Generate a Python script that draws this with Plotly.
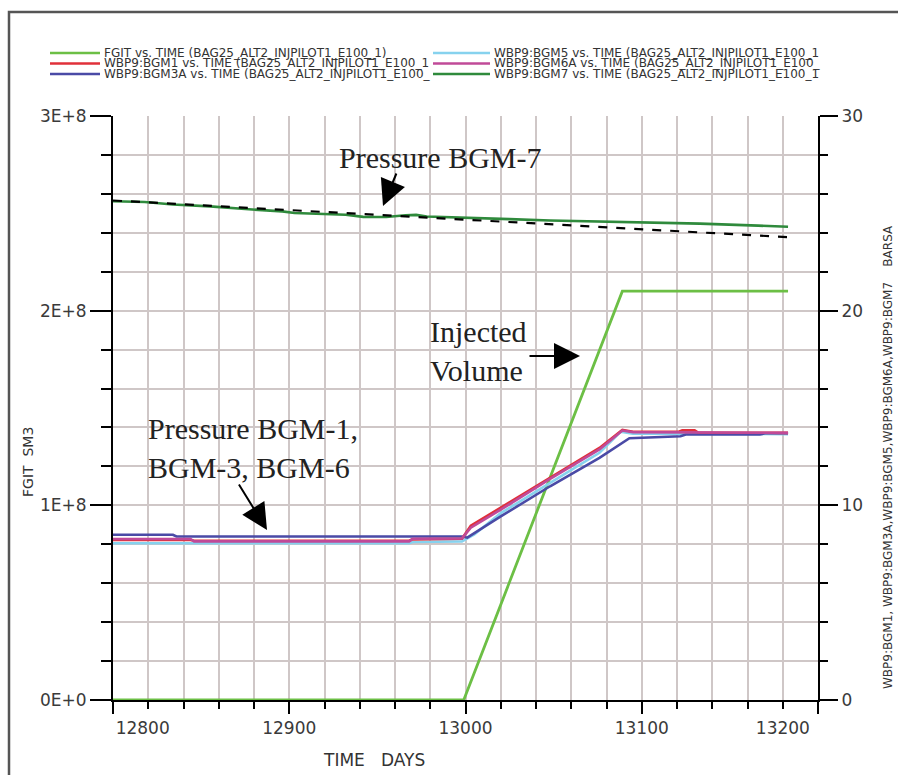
import plotly.graph_objects as go

# ---------------- data ----------------
fgit_days = [12800, 12999, 13089, 13183]
fgit_sm3 = [0, 0, 2.10e8, 2.10e8]

bgm1_days = [12800, 12844, 12846, 12968, 12970, 12998, 13003, 13020, 13048, 13076, 13089, 13095, 13121, 13123, 13130, 13132, 13183]
bgm1_bar = [8.22, 8.22, 8.18, 8.18, 8.25, 8.28, 8.95, 9.88, 11.45, 12.95, 13.88, 13.78, 13.78, 13.85, 13.85, 13.74, 13.72]

bgm3a_days = [12800, 12834, 12836, 12998, 13001, 13020, 13048, 13076, 13093, 13122, 13125, 13167, 13170, 13183]
bgm3a_bar = [8.49, 8.49, 8.40, 8.40, 8.34, 9.43, 10.98, 12.44, 13.45, 13.55, 13.64, 13.64, 13.70, 13.70]

bgm5_days = [12800, 12968, 12970, 12998, 13005, 13020, 13048, 13076, 13088, 13095, 13183]
bgm5_bar = [8.05, 8.05, 8.12, 8.15, 8.50, 9.60, 11.15, 12.70, 13.78, 13.68, 13.66]

bgm6a_days = [12800, 12844, 12846, 12968, 12970, 12998, 13003, 13020, 13048, 13076, 13089, 13095, 13183]
bgm6a_bar = [8.27, 8.27, 8.15, 8.15, 8.28, 8.30, 8.85, 9.78, 11.36, 12.87, 13.84, 13.76, 13.72]

bgm7_days = [12800, 12818, 12834, 12855, 12875, 12896, 12903, 12932, 12942, 12955, 12966, 12972, 12978,
             13000, 13025, 13048, 13074, 13105, 13133, 13166, 13175, 13183]
bgm7_bar = [25.62, 25.58, 25.45, 25.36, 25.22, 25.10, 25.02, 24.93, 24.82, 24.81, 24.90, 24.92, 24.84,
            24.79, 24.70, 24.63, 24.59, 24.52, 24.47, 24.37, 24.32, 24.31]

trend_days = [12800, 13186]
trend_bar = [25.66, 23.76]

x_ticks = [12800, 12900, 13000, 13100, 13200]
y_ticks = [0, 1e8, 2e8, 3e8]
y_ticktext = ["0E+0", "1E+8", "2E+8", "3E+8"]
y2_ticks = [0, 10, 20, 30]

run = "BAG25_ALT2_INJPILOT1_E100_1"
legend_col1 = [("FGIT", "#6cbf45"), ("WBP9:BGM1", "#e0303a"), ("WBP9:BGM3A", "#4a4aa6")]
legend_col2 = [("WBP9:BGM5", "#86d2ee"), ("WBP9:BGM6A", "#c04a98"), ("WBP9:BGM7", "#2f8a3c")]
legend_trunc = {"FGIT": run + ")", "WBP9:BGM1": run, "WBP9:BGM3A": run[:-1],
                "WBP9:BGM5": run, "WBP9:BGM6A": run[:-1], "WBP9:BGM7": run}

# ---------------- geometry helpers ----------------
W, H = 898, 775
L, R, T, B = 113, 80, 116, 75
PW = W - L - R
PH = H - T - B


def px(x):
    return (x - L) / PW


def py(y):
    return (H - B - y) / PH


colors = dict(legend_col1 + legend_col2)

fig = go.Figure()


def add_line(xs, ys, name, color, yaxis, width=2.6, dash=None):
    fig.add_trace(go.Scatter(
        x=xs, y=ys, mode="lines", name=name, yaxis=yaxis,
        line=dict(color=color, width=width, dash=dash), showlegend=False,
        hoverinfo="skip"))


add_line(bgm5_days, bgm5_bar, "WBP9:BGM5", colors["WBP9:BGM5"], "y2")
add_line(bgm3a_days, bgm3a_bar, "WBP9:BGM3A", colors["WBP9:BGM3A"], "y2")
add_line(bgm1_days, bgm1_bar, "WBP9:BGM1", colors["WBP9:BGM1"], "y2")
add_line(bgm6a_days, bgm6a_bar, "WBP9:BGM6A", colors["WBP9:BGM6A"], "y2")
add_line(bgm7_days, bgm7_bar, "WBP9:BGM7", colors["WBP9:BGM7"], "y2")
add_line(fgit_days, fgit_sm3, "FGIT", colors["FGIT"], "y", width=2.8)
add_line(trend_days, trend_bar, "trend", "black", "y2", width=2.2, dash="dash")

tickfont = dict(family="DejaVu Sans", size=17, color="#3a3a3a")
grid = "#cfc7c7"
nb = "\u00a0"
x_ticktext = [str(v) for v in x_ticks]
x_ticktext[0] = nb * 11 + x_ticktext[0]
x_ticktext[-1] = x_ticktext[-1] + nb * 13

fig.update_layout(
    width=W, height=H,
    margin=dict(l=L, r=R, t=T, b=B),
    paper_bgcolor="white", plot_bgcolor="white",
    showlegend=False,
    xaxis=dict(range=[12800, 13200], tickvals=x_ticks, ticktext=x_ticktext,
               showgrid=True, gridcolor=grid, gridwidth=1.5,
               ticks="outside", ticklen=12, tickwidth=2, tickcolor="black",
               showline=True, linecolor="black", linewidth=2,
               minor=dict(dtick=20, tick0=12800, ticks="outside", ticklen=7, tickwidth=1.5,
                          tickcolor="black", showgrid=True, gridcolor=grid, gridwidth=1.5),
               tickfont=tickfont, zeroline=False),
    yaxis=dict(range=[0, 3e8], tickvals=y_ticks, ticktext=y_ticktext,
               showgrid=True, gridcolor=grid, gridwidth=1.5,
               ticks="outside", ticklen=21, tickwidth=2, tickcolor="black",
               showline=True, linecolor="black", linewidth=2,
               minor=dict(dtick=2e7, tick0=0, ticks="outside", ticklen=10, tickwidth=1.5,
                          tickcolor="black", showgrid=True, gridcolor=grid, gridwidth=1.5),
               tickfont=tickfont, zeroline=False),
    yaxis2=dict(range=[0, 30], tickvals=y2_ticks, overlaying="y", side="right",
                showgrid=False, ticks="outside", ticklen=18, tickwidth=2, tickcolor="black",
                showline=True, linecolor="black", linewidth=2,
                minor=dict(dtick=2, tick0=0, ticks="outside", ticklen=8, tickwidth=1.5,
                           tickcolor="black", showgrid=False),
                tickfont=tickfont, zeroline=False),
)

shapes = []
annotations = []

# outer frame
shapes.append(dict(type="rect", xref="paper", yref="paper", x0=px(9), x1=px(930),
                   y0=py(12), y1=py(800), line=dict(color="#555555", width=2.5),
                   fillcolor="rgba(0,0,0,0)", layer="below"))

# manual legend (two columns, three rows)
legfont = dict(family="DejaVu Sans", size=12, color="#333333")
row_y = [53, 63.5, 74]
for col_items, lx0, lx1, tx in [(legend_col1, 50, 100, 102), (legend_col2, 433, 490, 492)]:
    for (name, col), ry in zip(col_items, row_y):
        shapes.append(dict(type="line", xref="paper", yref="paper", x0=px(lx0), x1=px(lx1),
                           y0=py(ry), y1=py(ry), line=dict(color=col, width=2.5)))
        annotations.append(dict(xref="paper", yref="paper", x=px(tx), y=py(ry), xanchor="left",
                                yanchor="middle", showarrow=False, font=legfont,
                                text=f"{name} vs. TIME ({legend_trunc[name]}"))

# axis titles
annotations.append(dict(xref="paper", yref="paper", x=px(28), y=py(462), showarrow=False,
                        xanchor="center", yanchor="middle",
                        textangle=-90, text="FGIT" + nb * 2 + "SM3",
                        font=dict(family="DejaVu Sans", size=14, color="#333333")))
annotations.append(dict(xref="paper", yref="paper", x=px(374), y=py(760), showarrow=False,
                        xanchor="center", yanchor="middle",
                        text="TIME" + nb * 3 + "DAYS",
                        font=dict(family="DejaVu Sans", size=17, color="#333333")))
annotations.append(dict(xref="paper", yref="paper", x=px(888), y=py(457), showarrow=False,
                        xanchor="center", yanchor="middle", textangle=-90,
                        text="WBP9:BGM1, WBP9:BGM3A,WBP9:BGM5,WBP9:BGM6A,WBP9:BGM7" + nb * 4 + "BARSA",
                        font=dict(family="DejaVu Sans", size=12, color="#333333")))

# callout texts
serif = dict(family="Liberation Serif", size=30, color="#222222")
annotations.append(dict(xref="paper", yref="paper", x=px(440), y=py(157), showarrow=False,
                        text="Pressure BGM-7", font=serif, xanchor="center", yanchor="middle"))
annotations.append(dict(xref="paper", yref="paper", x=px(428), y=py(351), showarrow=False,
                        text="Injected<br>Volume", font=serif, xanchor="left", yanchor="middle",
                        align="left"))
annotations.append(dict(xref="paper", yref="paper", x=px(146), y=py(448), showarrow=False,
                        text="Pressure BGM-1,<br>BGM-3, BGM-6", font=serif, xanchor="left",
                        yanchor="middle", align="left"))

# callout arrows (head position, tail offset in pixels)
for hx, hy, tx, ty in [(383, 206, 397, 172), (580, 356, 528, 356), (267, 530, 238, 483)]:
    annotations.append(dict(xref="paper", yref="paper", x=px(hx), y=py(hy), ax=tx - hx, ay=ty - hy,
                            text="", showarrow=True, arrowhead=2, arrowsize=2.6, arrowwidth=2,
                            arrowcolor="black", standoff=0))

fig.update_layout(shapes=shapes, annotations=annotations)
fig.write_html("out.html")
